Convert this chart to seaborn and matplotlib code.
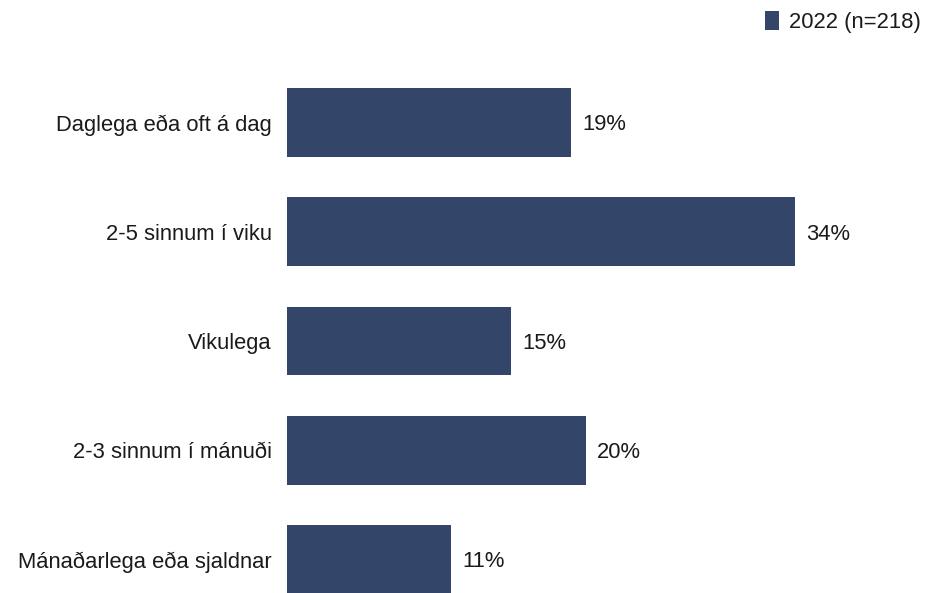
import matplotlib
matplotlib.use("Agg")
import matplotlib.pyplot as plt
import seaborn as sns
import pandas as pd
from matplotlib.patches import Patch

categories = [
    "Daglega eða oft á dag",
    "2-5 sinnum í viku",
    "Vikulega",
    "2-3 sinnum í mánuði",
    "Mánaðarlega eða sjaldnar",
]
values_2022 = [19, 34, 15, 20, 11]
series_label = "2022 (n=218)"

bar_color = "#33466A"
text_color = "#1a1a1a"

sns.set_theme(style="white")
plt.rcParams["font.family"] = ["Liberation Sans", "DejaVu Sans"]

df = pd.DataFrame({"category": categories, "value": values_2022})

fig = plt.figure(figsize=(9.28, 5.93), dpi=100)
ax = fig.add_axes([287 / 928, 0.0, 1 - 287 / 928, 533 / 593])

sns.barplot(data=df, x="value", y="category", orient="h", color=bar_color,
            saturation=1, width=0.63, linewidth=0, ax=ax)

ax.set_xlim(0, 34 * 641 / 508)
ax.set_ylim(4 + 33.5 / 109.25, -0.572)

# value labels just right of each bar
for i, v in enumerate(values_2022):
    ax.annotate(f"{v}%", xy=(v, i), xytext=(8, 0), textcoords="offset points",
                ha="left", va="center_baseline", fontsize=15.8, color=text_color)

ax.set_xlabel("")
ax.set_ylabel("")
ax.set_xticks([])
ax.tick_params(axis="y", length=0, pad=11, labelsize=15.8, labelcolor=text_color)
for lbl in ax.get_yticklabels():
    lbl.set_verticalalignment("center_baseline")
sns.despine(ax=ax, left=True, bottom=True)

fig.legend(handles=[Patch(facecolor=bar_color, edgecolor="none", label=series_label)],
           loc="upper right", bbox_to_anchor=(1.0066, 1.003), frameon=False,
           fontsize=15.8, handlelength=0.63, handleheight=0.95, handletextpad=0.45,
           borderaxespad=0.2, labelcolor=text_color)

fig.savefig("out.png", dpi=100)
